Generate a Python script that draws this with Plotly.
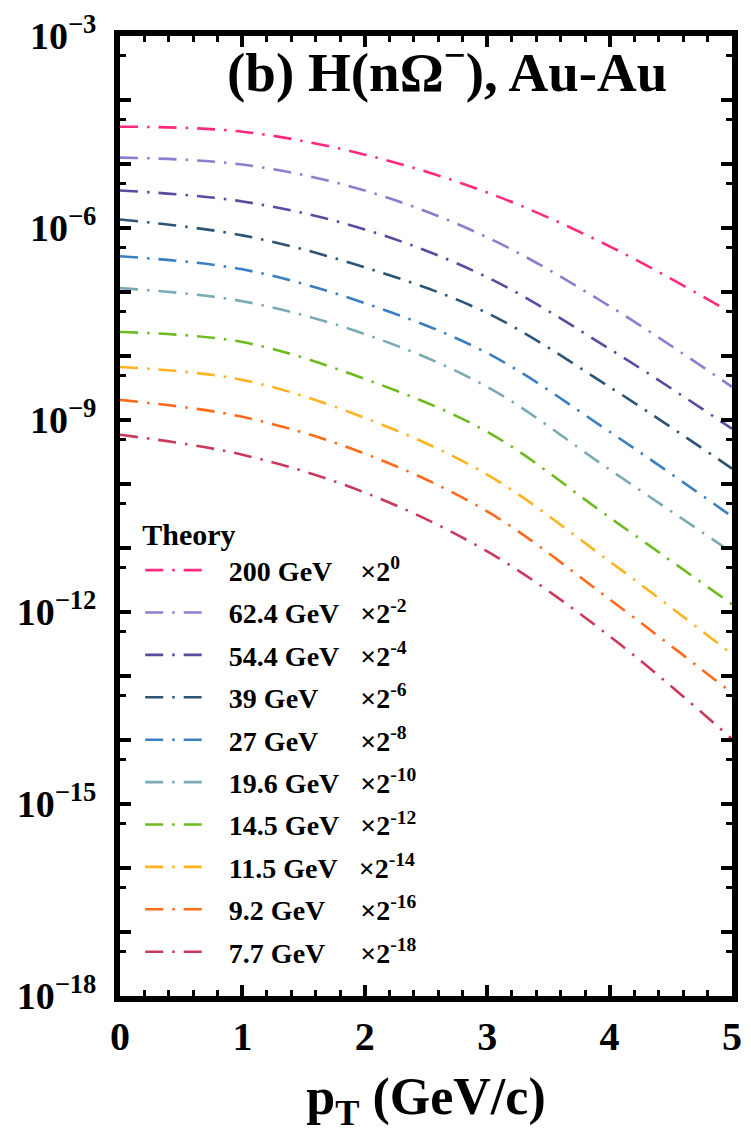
import plotly.graph_objects as go

# ---------------- data ----------------
pt = [0, 1, 2, 3, 4, 5]

energies = ["200 GeV", "62.4 GeV", "54.4 GeV", "39 GeV", "27 GeV",
            "19.6 GeV", "14.5 GeV", "11.5 GeV", "9.2 GeV", "7.7 GeV"]
exponents = [0, -2, -4, -6, -8, -10, -12, -14, -16, -18]

y_200 = [3.83e-5, 3.2e-5, 1.40e-5, 3.59e-6, 5.17e-7, 4.68e-8]
y_624 = [1.26e-5, 9.8e-6, 3.85e-6, 7.14e-7, 6.01e-8, 3.29e-9]
y_544 = [3.85e-6, 2.60e-6, 9.5e-7, 1.70e-7, 1.29e-8, 7.3e-10]
y_39 = [1.36e-6, 7.67e-7, 2.43e-7, 4.68e-8, 3.29e-9, 1.74e-10]
y_27 = [3.61e-7, 2.26e-7, 6.70e-8, 1.11e-8, 6.55e-10, 3.10e-11]
y_196 = [1.15e-7, 7.19e-8, 2.20e-8, 3.29e-9, 1.68e-10, 8.5e-12]
y_145 = [2.37e-8, 1.65e-8, 4.38e-9, 6.55e-10, 3.0e-11, 1.32e-12]
y_115 = [6.74e-9, 4.23e-9, 1.08e-9, 1.40e-10, 6.18e-12, 2.20e-13]
y_92 = [2.06e-9, 1.12e-9, 2.98e-10, 3.72e-11, 1.58e-12, 5.43e-14]
y_77 = [5.88e-10, 2.87e-10, 7.35e-11, 8.85e-12, 4.20e-13, 1.04e-14]

series = [y_200, y_624, y_544, y_39, y_27, y_196, y_145, y_115, y_92, y_77]

colors = ["#ff2a7f", "#8a7fcf", "#5b4aa0", "#2c5475", "#3a7fc2",
          "#7aaab4", "#6dbb1e", "#ffb31e", "#ff6a1a", "#c93a5c"]

ytick_exps = list(range(-3, -19, -1))

# ---------------- helpers ----------------
FONT = "Liberation Serif, Times New Roman, serif"
CHAR_EM = {".": 0.25, " ": 0.25}


def em_width(s):
    w = 0.0
    for ch in s.split(" ")[0]:
        w += CHAR_EM.get(ch, 0.5)
    return w


max_w = max(em_width(e) for e in energies)


def legend_name(energy, exp):
    pad = max_w - em_width(energy)
    fill = ""
    while pad >= 0.5 - 1e-9:
        fill += "\u2007"
        pad -= 0.5
    while pad >= 0.25 - 1e-9:
        fill += "\u2008"
        pad -= 0.25
    return f"\u2002\u2006{energy}{fill}\u2002\u2005×2<sup>{exp}</sup>"


fig = go.Figure()
for i, (e, ex, ys, c) in enumerate(zip(energies, exponents, series, colors)):
    fig.add_trace(go.Scatter(
        x=pt, y=ys, mode="lines", name=legend_name(e, ex),
        legendgroup=str(i),
        line=dict(color=c, width=2.6, dash="18px,9px,2.5px,9px", shape="spline"),
    ))

fig.update_layout(
    width=751, height=1135,
    margin=dict(l=120, r=9, t=35, b=139),
    paper_bgcolor="white", plot_bgcolor="white",
    showlegend=True,
    legend=dict(
        x=0.033, y=0.51, xanchor="left", yanchor="top",
        bgcolor="rgba(0,0,0,0)",
        font=dict(family=FONT, size=28, color="black", weight="bold"),
        title=dict(text="Theory", font=dict(family=FONT, size=30, color="black", weight="bold")),
        tracegroupgap=3, itemwidth=60,
    ),
    xaxis=dict(
        range=[0, 5], tickvals=[0, 1, 2, 3, 4, 5],
        ticks="inside", ticklen=11, tickwidth=4, tickcolor="black",
        minor=dict(dtick=0.2, ticks="inside", ticklen=6, tickwidth=3, tickcolor="black"),
        showline=True, linewidth=6, linecolor="black", mirror="ticks",
        showgrid=False, zeroline=False,
        tickfont=dict(family=FONT, size=40, color="black", weight="bold"),
        title=dict(text="p<sub>T</sub> (GeV/c)", font=dict(family=FONT, size=52, color="black", weight="bold"),
                   standoff=22),
    ),
    yaxis=dict(
        type="log", range=[-18, -3],
        tickvals=[10.0 ** k for k in ytick_exps],
        ticktext=[f"10<sup>−{-k}</sup>" if k % 3 == 0 else "" for k in ytick_exps],
        ticks="inside", ticklen=11, tickwidth=4, tickcolor="black",
        minor=dict(tickvals=[5 * 10.0 ** k for k in range(-18, -3)], ticks="inside",
                   ticklen=6, tickwidth=3, tickcolor="black"),
        showline=True, linewidth=6, linecolor="black", mirror="ticks",
        showgrid=False, zeroline=False,
        tickfont=dict(family=FONT, size=38, color="black", weight="bold"),
        ticklabelstandoff=10,
    ),
    annotations=[dict(
        text="(b) H(nΩ<sup>−</sup>), Au-Au", xref="paper", yref="paper",
        x=0.535, y=0.966, xanchor="center", yanchor="middle", showarrow=False,
        font=dict(family=FONT, size=55, color="black", weight="bold"),
    )],
)

fig.write_html("out.html")
